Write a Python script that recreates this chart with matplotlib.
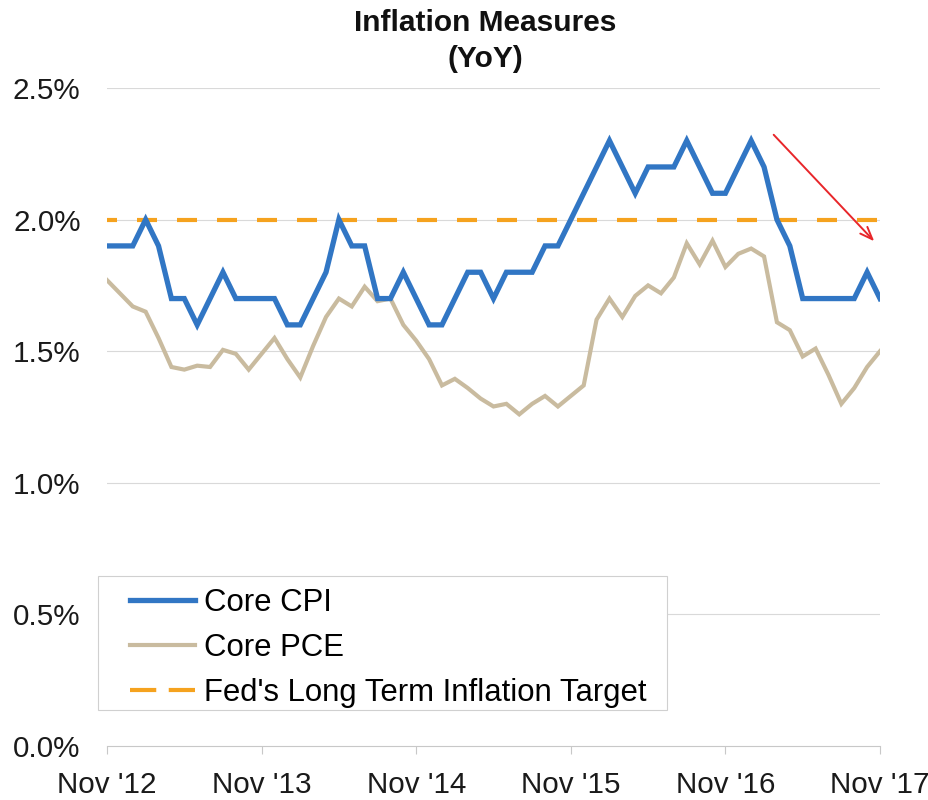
import matplotlib
matplotlib.use("Agg")
import matplotlib.pyplot as plt
from matplotlib.patches import Rectangle
from matplotlib.lines import Line2D
import numpy as np

plt.rcParams['font.family'] = ['Liberation Sans', 'DejaVu Sans']

# ---- data ----
tick_labels = ["Nov '12", "Nov '13", "Nov '14", "Nov '15", "Nov '16", "Nov '17"]
core_cpi = [1.9, 1.9,
            1.9, 2.0, 1.9, 1.7, 1.7, 1.6, 1.7, 1.8, 1.7, 1.7, 1.7, 1.7,
            1.6, 1.6, 1.7, 1.8, 2.0, 1.9, 1.9, 1.7, 1.7, 1.8, 1.7, 1.6,
            1.6, 1.7, 1.8, 1.8, 1.7, 1.8, 1.8, 1.8, 1.9, 1.9, 2.0, 2.1,
            2.2, 2.3, 2.2, 2.1, 2.2, 2.2, 2.2, 2.3, 2.2, 2.1, 2.1, 2.2,
            2.3, 2.2, 2.0, 1.9, 1.7, 1.7, 1.7, 1.7, 1.7, 1.8, 1.7]
core_pce = [1.77, 1.72, 1.67, 1.65, 1.55, 1.44, 1.43, 1.445, 1.44, 1.505,
            1.49, 1.43, 1.49, 1.55, 1.47, 1.40, 1.52, 1.63, 1.70, 1.67,
            1.745, 1.69, 1.70, 1.60, 1.54, 1.47, 1.37, 1.395, 1.36, 1.32,
            1.29, 1.30, 1.26, 1.30, 1.33, 1.29, 1.33, 1.37, 1.62, 1.70,
            1.63, 1.71, 1.75, 1.72, 1.78, 1.91, 1.83, 1.92, 1.82, 1.87,
            1.89, 1.86, 1.61, 1.58, 1.48, 1.51, 1.41, 1.30, 1.36, 1.44, 1.50]
fed_target = 2.0
y_ticks = [0.0, 0.5, 1.0, 1.5, 2.0, 2.5]
arrow_start = (51.6, 2.33)
arrow_end = (59.7, 1.91)

months = np.arange(len(core_cpi))

fig = plt.figure(figsize=(9.29, 8.0), dpi=100)
ax = fig.add_axes([107/929, 1-746/800, (880-107)/929, (746-88)/800])

ax.set_xlim(0, len(core_cpi) - 1)
ax.set_ylim(0, 2.5)

for y in y_ticks[1:]:
    ax.axhline(y, color='#d9d9d9', lw=0.8, zorder=0)

ax.plot(months, core_pce, color='#C9BB9F', lw=3.0, solid_joinstyle='miter', label='Core PCE', zorder=3)
ax.plot(months, core_cpi, color='#3176C4', lw=3.8, solid_joinstyle='miter', label='Core CPI', zorder=4)
ax.plot([months[0], months[-1]], [fed_target, fed_target], color='#F5A21E', lw=3.0,
        linestyle=(2.4, (4.8, 4.8)), label="Fed's Long Term Inflation Target", zorder=2)

ax.annotate('', xy=arrow_end, xytext=arrow_start,
            arrowprops=dict(arrowstyle='->,head_length=0.9,head_width=0.35', color='#E8262A', lw=1.4),
            zorder=6)

ax.set_xticks(np.arange(0, len(core_cpi), 12))
ax.set_xticklabels(tick_labels)
ax.set_yticks(y_ticks)
ax.set_yticklabels([f"{v:.1f}%" for v in y_ticks])
ax.tick_params(axis='y', length=0, pad=19, labelsize=21.3, labelcolor='#1a1a1a')
ax.tick_params(axis='x', length=6, width=0.8, color='#c8c8c8', pad=12, labelsize=21.3, labelcolor='#1a1a1a')
for s in ['top', 'right', 'left']:
    ax.spines[s].set_visible(False)
ax.spines['bottom'].set_color('#c8c8c8')
ax.spines['bottom'].set_linewidth(0.8)

# legend frame
rect = Rectangle((-0.0116, 0.055), 0.7356, 0.203, transform=ax.transAxes,
                 facecolor='white', edgecolor='#d0d0d0', lw=0.8, zorder=5, clip_on=False)
ax.add_patch(rect)
h_cpi = Line2D([], [], color='#3176C4', lw=3.8)
h_pce = Line2D([], [], color='#C9BB9F', lw=3.0)
h_fed = Line2D([], [], color='#F5A21E', lw=3.0, linestyle=(0, (6.3, 3.0)))
leg = ax.legend([h_cpi, h_pce, h_fed], ['Core CPI', 'Core PCE', "Fed's Long Term Inflation Target"],
                loc='upper left',
                bbox_to_anchor=(0.0298, 0.240), frameon=False, fontsize=22.4,
                handlelength=2.09, handletextpad=0.29, labelspacing=0.48,
                borderpad=0.0, borderaxespad=0.0)
leg.set_zorder(7)

fig.text(485/929, 1-9/800, "Inflation Measures\n(YoY)", ha='center', va='top',
         fontsize=21.5, fontweight='bold', linespacing=1.38, color='#111111')

fig.savefig('out.png', dpi=100, facecolor='white')
